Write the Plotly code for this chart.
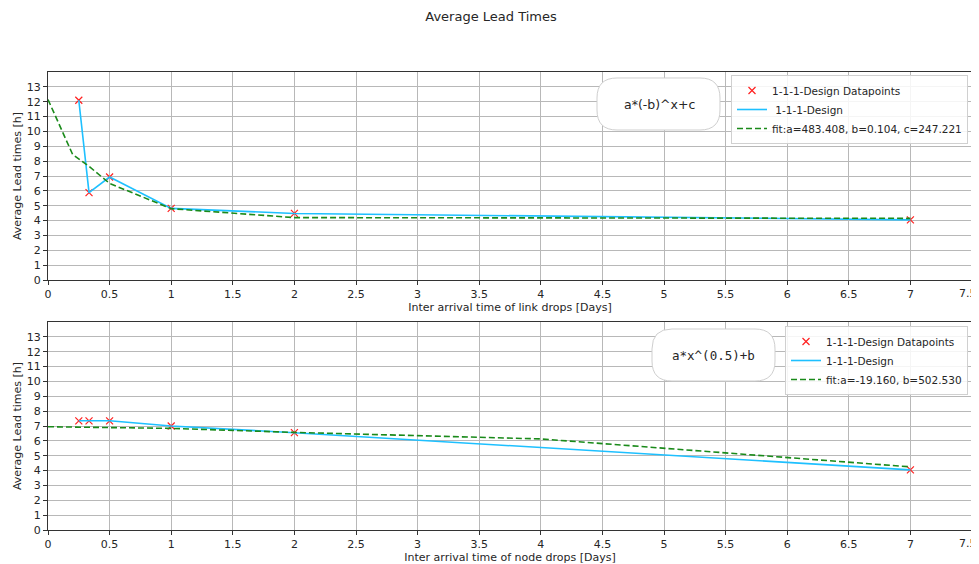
import plotly.graph_objects as go
from plotly.subplots import make_subplots

# ---- data ----
link_x = [0.25, 0.333, 0.5, 1, 2, 7]
link_y = [12.1, 5.88, 6.93, 4.82, 4.48, 4.05]
link_fit_x = [0, 0.2, 0.333, 0.5, 1, 2, 7]
link_fit_y = [12.15, 8.45, 7.65, 6.5, 4.8, 4.2, 4.15]

node_x = [0.25, 0.333, 0.5, 1, 2, 7]
node_y = [7.35, 7.35, 7.35, 7.0, 6.55, 4.05]
node_fit_x = [0, 1, 2, 4, 7]
node_fit_y = [6.95, 6.84, 6.57, 6.13, 4.25]

x_ticks = [0, 0.5, 1, 1.5, 2, 2.5, 3, 3.5, 4, 4.5, 5, 5.5, 6, 6.5, 7, 7.5]
y_ticks = list(range(0, 14))

# last x tick label sits on the window edge; draw it as an annotation nudged inward
x_ticktext = [f"{v:g}" for v in x_ticks[:-1]] + [""]
edge_label = f"{x_ticks[-1]:g}"

# page body has an 8px margin, so the figure is drawn 8px in from the window corner
OFF = 8
W, H = 979 - OFF, 564 - OFF
ML, MR, MT, MB = 48 - OFF, 7, 72 - OFF, 34
PW, PH = W - ML - MR, H - MT - MB

FONT = "DejaVu Sans"
RED = "#ff2020"
BLUE = "#1ec0ff"
GREEN = "#1a8a1a"
TXT = "#262626"

fig = make_subplots(rows=2, cols=1, vertical_spacing=42 / PH)

def add_series(row, x, y, fx, fy, line_name, fit_name, legend):
    fig.add_trace(go.Scatter(x=x, y=y, mode="markers", name="1-1-1-Design Datapoints",
                             marker=dict(symbol="x-thin", size=7, line=dict(color=RED, width=1.2), color=RED),
                             legend=legend), row=row, col=1)
    fig.add_trace(go.Scatter(x=x, y=y, mode="lines", name=line_name,
                             line=dict(color=BLUE, width=1.6), legend=legend), row=row, col=1)
    fig.add_trace(go.Scatter(x=fx, y=fy, mode="lines", name=fit_name,
                             line=dict(color=GREEN, width=1.6, dash="6px,3px"), legend=legend), row=row, col=1)

add_series(1, link_x, link_y, link_fit_x, link_fit_y, " 1-1-1-Design",
           "fit:a=483.408, b=0.104, c=247.221", "legend")
add_series(2, node_x, node_y, node_fit_x, node_fit_y, "1-1-1-Design",
           "fit:a=-19.160, b=502.530", "legend2")

axis_common = dict(range=[0, 7.5], tickvals=x_ticks, ticktext=x_ticktext, showgrid=True,
                   gridcolor="#b8b8b8", gridwidth=1,
                   zeroline=False, showline=True, linecolor="#333333", linewidth=1, mirror=True,
                   ticks="outside", ticklen=4, tickcolor="#333333", automargin=False,
                   tickfont=dict(family=FONT, size=11, color=TXT))
yaxis_common = dict(range=[0, 14], tickvals=y_ticks, showgrid=True, gridcolor="#b8b8b8", gridwidth=1,
                    zeroline=False, showline=True, linecolor="#333333", linewidth=1, mirror=True,
                    ticks="outside", ticklen=4, tickcolor="#333333", automargin=False,
                    tickfont=dict(family=FONT, size=11, color=TXT))

fig.update_xaxes(**axis_common)
fig.update_yaxes(**yaxis_common)
fig.update_xaxes(title=dict(text="Inter arrival time of link drops [Days]", standoff=2,
                            font=dict(family=FONT, size=11, color=TXT)), row=1, col=1)
fig.update_xaxes(title=dict(text="Inter arrival time of node drops [Days]", standoff=2,
                            font=dict(family=FONT, size=11, color=TXT)), row=2, col=1)
fig.update_yaxes(title=dict(text="Average Lead times [h]", standoff=2,
                            font=dict(family=FONT, size=11, color=TXT)))

def px2paper(px, py):
    # screenshot pixel -> paper coordinates
    return (px - OFF - ML) / PW, (H - MB - (py - OFF)) / PH

def rounded_box(x0, y0, x1, y1, r):
    def P(px, py):
        a, b = px2paper(px, py)
        return f"{a:.5f},{b:.5f}"
    path = (f"M {P(x0 + r, y0)} L {P(x1 - r, y0)} Q {P(x1, y0)} {P(x1, y0 + r)} "
            f"L {P(x1, y1 - r)} Q {P(x1, y1)} {P(x1 - r, y1)} "
            f"L {P(x0 + r, y1)} Q {P(x0, y1)} {P(x0, y1 - r)} "
            f"L {P(x0, y0 + r)} Q {P(x0, y0)} {P(x0 + r, y0)} Z")
    return dict(type="path", xref="paper", yref="paper", path=path,
                fillcolor="white", line=dict(color="#cfcfcf", width=1), layer="above")

shapes = [rounded_box(597, 78, 720, 130, 20), rounded_box(652, 329, 775, 381, 20)]

annotations = []
cx, cy = px2paper(659, 104)
annotations.append(dict(x=cx, y=cy, xref="paper", yref="paper", text="a*(-b)^x+c", showarrow=False,
                        xanchor="center", yanchor="middle",
                        font=dict(family=FONT, size=12.5, color=TXT)))
cx, cy = px2paper(713, 355)
annotations.append(dict(x=cx, y=cy, xref="paper", yref="paper", text="a*x^(0.5)+b", showarrow=False,
                        xanchor="center", yanchor="middle",
                        font=dict(family="DejaVu Sans Mono", size=12.5, color=TXT)))
for xr, yr in (("x", "y"), ("x2", "y2")):
    annotations.append(dict(x=x_ticks[-1], y=0, xref=xr, yref=yr, text=edge_label, showarrow=False,
                            xanchor="center", yanchor="top", xshift=-4, yshift=-5,
                            font=dict(family=FONT, size=11, color=TXT)))

lx1, ly1 = px2paper(968, 75)
lx2, ly2 = px2paper(968, 326)
legend_style = dict(xanchor="right", yanchor="top", bgcolor="rgba(255,255,255,0.85)",
                    bordercolor="#d0d0d0", borderwidth=1, font=dict(family=FONT, size=10.5, color=TXT),
                    itemwidth=30, tracegroupgap=0)

fig.update_layout(
    width=W, height=H,
    margin=dict(l=ML, r=MR, t=MT, b=MB, autoexpand=False),
    paper_bgcolor="white", plot_bgcolor="white",
    title=dict(text="Average Lead Times", x=(491 - OFF) / W, xanchor="center", y=1 - (16 - OFF) / H,
               yanchor="middle", font=dict(family=FONT, size=13, color=TXT)),
    legend=dict(x=lx1, y=ly1, **legend_style),
    legend2=dict(x=lx2, y=ly2, **legend_style),
    shapes=shapes, annotations=annotations,
    showlegend=True,
)

fig.write_html("out.html")
